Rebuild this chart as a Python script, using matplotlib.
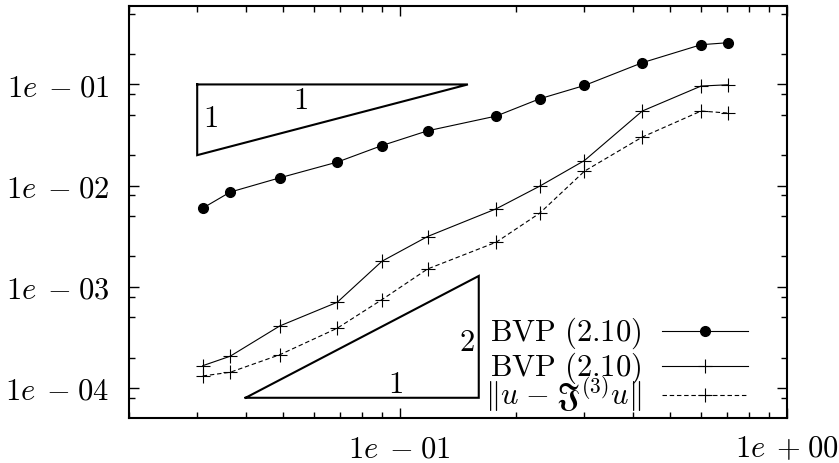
import numpy as np
import matplotlib
matplotlib.use('Agg')
import matplotlib.pyplot as plt
from matplotlib.ticker import FixedLocator, FixedFormatter, LogLocator, NullFormatter

plt.rcParams['mathtext.fontset'] = 'cm'
plt.rcParams['font.family'] = 'serif'
plt.rcParams['font.serif'] = ['cmr10', 'DejaVu Serif']
plt.rcParams['axes.formatter.use_mathtext'] = True

# data
h = [0.031, 0.0365, 0.049, 0.069, 0.090, 0.118, 0.1775, 0.230, 0.300, 0.423, 0.600, 0.705]
err_bvp_dot = [0.00599, 0.00863, 0.01194, 0.01708, 0.0249, 0.0348, 0.0487, 0.0722, 0.0977, 0.164, 0.247, 0.2586]
err_bvp_plus = [1.66e-4, 2.06e-4, 4.10e-4, 7.04e-4, 1.79e-3, 3.14e-3, 5.90e-3, 9.89e-3, 0.01771, 0.0546, 0.0964, 0.0993]
err_interp = [1.315e-4, 1.43e-4, 2.13e-4, 3.90e-4, 7.47e-4, 1.50e-3, 2.76e-3, 5.35e-3, 0.0139, 0.0302, 0.0546, 0.0521]

labels = [r'$\mathrm{BVP\ (2.10)}$', r'$\mathrm{BVP\ (2.10)}$', r'$\Vert u\;{-}\;\mathfrak{J}^{(3)}u\Vert$']

# slope triangles
tri1_x = [0.03, 0.15, 0.03, 0.03]
tri1_y = [0.1, 0.1, 0.02, 0.1]
tri2_x = [0.04, 0.16, 0.16, 0.04]
tri2_y = [8e-5, 8e-5, 1.28e-3, 8e-5]

xticks = [0.1, 1.0]
xticklabels = [r'$1e\;\,{-}\;01$', r'$1e\;\,{+}\;00$']
yticks = [1e-4, 1e-3, 1e-2, 1e-1]
yticklabels = [r'$1e\;\,{-}\;04$', r'$1e\;\,{-}\;03$', r'$1e\;\,{-}\;02$', r'$1e\;\,{-}\;01$']

fs = 22

fig = plt.figure(figsize=(8.39, 4.64), dpi=100)
ax = fig.add_axes([129/839, 45/464, (787-129)/839, (419-7)/464])

l1, = ax.plot(h, err_bvp_dot, 'k-', lw=0.8, marker='o', ms=7)
l2, = ax.plot(h, err_bvp_plus, 'k-', lw=0.8, marker='+', ms=10, mew=0.8)
l3, = ax.plot(h, err_interp, 'k--', lw=0.8, marker='+', ms=10, mew=0.8, dashes=(4, 2.5))

ax.plot(tri1_x, tri1_y, 'k-', lw=1.5, solid_joinstyle='miter')
ax.plot(tri2_x, tri2_y, 'k-', lw=1.5, solid_joinstyle='miter')
ax.text(0.0325, 0.0458, r'$1$', fontsize=fs, ha='center', va='center')
ax.text(0.0555, 0.0700, r'$1$', fontsize=fs, ha='center', va='center')
ax.text(0.149, 2.85e-4, r'$2$', fontsize=fs, ha='center', va='center')
ax.text(0.0975, 1.09e-4, r'$1$', fontsize=fs, ha='center', va='center')

ax.set_xscale('log')
ax.set_yscale('log')
ax.set_xlim(0.02, 1.0)
ax.set_ylim(5.05e-5, 0.596)

ax.xaxis.set_major_locator(FixedLocator(xticks))
ax.xaxis.set_major_formatter(FixedFormatter(xticklabels))
ax.xaxis.set_minor_locator(LogLocator(base=10, subs=np.arange(2, 10)))
ax.xaxis.set_minor_formatter(NullFormatter())
ax.yaxis.set_major_locator(FixedLocator(yticks))
ax.yaxis.set_major_formatter(FixedFormatter(yticklabels))
ax.yaxis.set_minor_locator(LogLocator(base=10, subs=(2, 5, 8)))
ax.yaxis.set_minor_formatter(NullFormatter())

ax.tick_params(which='both', direction='in', top=True, right=True, labelsize=fs, width=1)
ax.tick_params(which='major', length=7)
ax.tick_params(which='minor', length=4)
ax.tick_params(axis='y', which='major', pad=14)
ax.tick_params(axis='x', which='major', pad=12)
for s in ax.spines.values():
    s.set_linewidth(1.5)

# one legend per row so the rows sit evenly like gnuplot's key
row_bottoms = [351, 386, 414]
for i, (ln, lab) in enumerate(zip([l1, l2, l3], labels)):
    leg = ax.legend([ln], [lab], loc='lower right',
                    bbox_to_anchor=(748/839, (464 - row_bottoms[i])/464),
                    bbox_transform=fig.transFigure, frameon=False, markerfirst=False,
                    fontsize=fs, handlelength=2.8, handletextpad=0.7, handleheight=0.3,
                    borderpad=0, borderaxespad=0)
    if i < 2:
        ax.add_artist(leg)

fig.savefig('out.png', dpi=100)
